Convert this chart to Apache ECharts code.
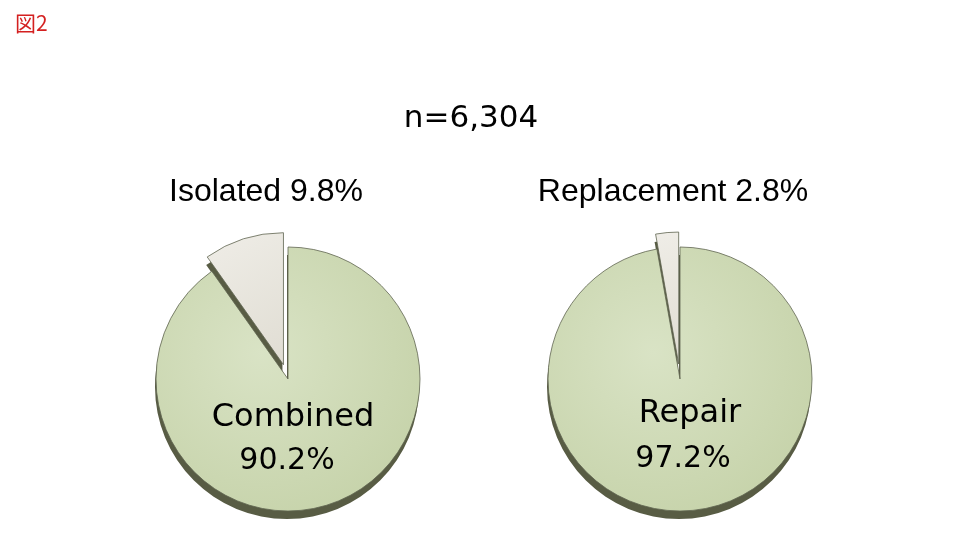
<!DOCTYPE html>
<html><head><meta charset="utf-8">
<script src="https://cdn.jsdelivr.net/npm/echarts@6/dist/echarts.min.js"></script>
<style>html,body{margin:0;padding:0;background:#fff}#c{width:960px;height:549px}</style>
</head><body><div id="c"></div>
<script>
const figLabel = '図2';
const totalLabel = 'n=6,304';
const leftNames = ['Combined', 'Isolated'];
const leftValues = [90.2, 9.8];
const rightNames = ['Repair', 'Replacement'];
const rightValues = [97.2, 2.8];

const chart = echarts.init(document.getElementById('c'));
const fontA = '"Liberation Sans", Arial, sans-serif';
const fontB = '"DejaVu Sans", sans-serif';
const green = {type:'radial', x:0.4, y:0.4, r:0.75, colorStops:[{offset:0,color:'#d9e3c5'},{offset:1,color:'#c4d1a7'}]};
const grey = {type:'linear', x:0, y:0, x2:1, y2:1, colorStops:[{offset:0,color:'#efede7'},{offset:1,color:'#e0ddd3'}]};
function mkData(names, values, shadow){
  return values.map((v,i)=>({name:names[i], value:v, selected: i===1,
    itemStyle:{color: shadow ? '#585c44' : (i===0 ? green : grey)}}));
}
function pieSeries(center, names, values, shadow){
  return {type:'pie', center:center, radius:132, startAngle:90, clockwise:true,
    selectedMode:'single', selectedOffset:15, animation:false, silent:true,
    label:{show:false}, labelLine:{show:false},
    itemStyle: shadow ? {borderWidth:0} : {borderColor:'#5f6450', borderWidth:0.8},
    select:{itemStyle: shadow ? {borderWidth:0, color:'#585c44'} : {borderColor:'#5f6450', borderWidth:0.8}},
    emphasis:{disabled:true},
    z: shadow ? 1 : 2,
    data: mkData(names, values, shadow)};
}
function pct(v){return v.toFixed(1)+'%';}
function t(text, x, y, size, family, color){
  return {text:text, left:x, top:y, textAlign:'center',
    textStyle:{color:color||'#000', fontSize:size, fontWeight:'normal', fontFamily:family}};
}
chart.setOption({
  animation:false,
  title:[
    {text:figLabel, left:10, top:8, textStyle:{color:'#d42020', fontSize:21, fontWeight:'normal', fontFamily:'"Noto Sans CJK JP", sans-serif'}},
    t(totalLabel, 466, 98, 31, fontB),
    t(leftNames[1]+' '+pct(leftValues[1]), 261, 171, 32, fontA),
    t(rightNames[1]+' '+pct(rightValues[1]), 668, 171, 32, fontA),
    t(leftNames[0], 288, 397, 32, fontB),
    t(pct(leftValues[0]), 282, 441, 30, fontB),
    t(rightNames[0], 685, 393, 32, fontB),
    t(pct(rightValues[0]), 678, 439, 30, fontB)
  ],
  series:[
    pieSeries([287,387], leftNames, leftValues, true),
    pieSeries([679,387], rightNames, rightValues, true),
    pieSeries([288,379], leftNames, leftValues, false),
    pieSeries([680,379], rightNames, rightValues, false)
  ]
});
</script></body></html>
